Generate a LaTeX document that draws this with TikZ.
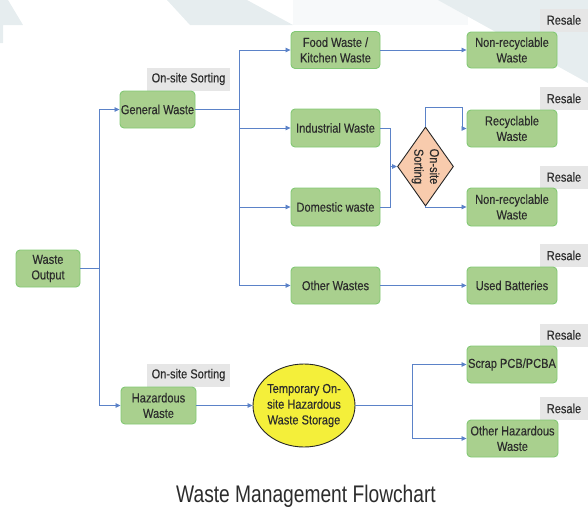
\documentclass[tikz,border=0pt]{standalone}
\usepackage{fontspec}
\setmainfont{Liberation Sans}[FakeStretch=0.85,FakeBold=0.3]
\newfontfamily\titlefont{Liberation Sans}[FakeStretch=0.8]
\usetikzlibrary{arrows.meta,shapes.geometric}
\definecolor{boxfill}{HTML}{A9D08E}
\definecolor{boxline}{HTML}{82C874}
\definecolor{conn}{HTML}{5B82C8}
\definecolor{txt}{HTML}{2C2C2C}
\definecolor{tagfill}{HTML}{E6E6E6}
\definecolor{wm}{HTML}{E6EDEF}
\definecolor{wmlight}{HTML}{F7F9FA}
\definecolor{peach}{HTML}{F8CBAD}
\definecolor{yel}{HTML}{F4EF3A}
\tikzset{
  wbox/.style={draw=boxline, fill=boxfill, line width=0.9pt, rounded corners=4pt,
    minimum width=89pt, minimum height=37pt, inner sep=0pt, align=center,
    text=txt, font=\fontsize{13}{15.5}\selectfont},
  tag/.style={fill=tagfill, inner sep=0pt, minimum height=23pt, text=txt,
    font=\fontsize{13}{15.5}\selectfont},
  conn/.style={draw=conn, line width=0.8pt},
  arr/.style={conn, -{Triangle[length=5pt,width=4.5pt]}},
  lbl/.style={text=txt, align=center, font=\fontsize{13}{15.7}\selectfont, inner sep=0pt}
}
\begin{document}
\begin{tikzpicture}[x=1pt,y=-1pt]
\useasboundingbox (0,0) rectangle (588,506);
% watermark shapes
\fill[wmlight] (293,0) -- (468,0) -- (468,25) -- (293,25) -- cycle;
\fill[wm] (0,0) -- (8,0) -- (23,25) -- (3,25) -- (3,43) -- (0,43) -- cycle;
\fill[wm] (167,0) -- (247,0) -- (293,25) -- (190,25) -- cycle;
\fill[wm] (438,0) -- (588,0) -- (588,83) -- cycle;
% gray tags
\node[tag, minimum width=83pt] (t1) at (188.5,79) {On-site Sorting};
\node[tag, minimum width=83pt] (t2) at (188.5,375) {On-site Sorting};
\node[tag, minimum width=48pt] (r1) at (564,20) {Resale};
\node[tag, minimum width=48pt] (r2) at (564,98.5) {Resale};
\node[tag, minimum width=48pt] (r3) at (564,177) {Resale};
\node[tag, minimum width=48pt] (r4) at (564,255.5) {Resale};
\node[tag, minimum width=48pt] (r5) at (564,335) {Resale};
\node[tag, minimum width=48pt] (r6) at (564,408.5) {Resale};
% boxes
\node[wbox, minimum width=64pt] (wo) at (48,268.5) {Waste\\Output};
\node[wbox, minimum width=75pt] (gw) at (157.5,109.5) {General Waste};
\node[wbox, minimum width=75pt] (hw) at (158.5,405.5) {Hazardous\\Waste};
\node[wbox] (fw) at (335.5,50) {Food Waste /\\Kitchen Waste};
\node[wbox, minimum height=38pt] (iw) at (335.5,128) {Industrial Waste};
\node[wbox, minimum height=38pt] (dw) at (335.5,207) {Domestic waste};
\node[wbox] (ow) at (335.5,285.5) {Other Wastes};
\node[wbox, minimum width=90pt, minimum height=36pt] (nr1) at (512,50) {Non-recyclable\\Waste};
\node[wbox, minimum width=90pt] (rw) at (512,128.5) {Recyclable\\Waste};
\node[wbox, minimum width=90pt, minimum height=38pt] (nr2) at (512,207) {Non-recyclable\\Waste};
\node[wbox, minimum width=90pt] (ub) at (512,285.5) {Used Batteries};
\node[wbox, minimum width=90pt] (sp) at (512,364.5) {Scrap PCB/PCBA};
\node[wbox, minimum width=91pt] (oh) at (512.5,438.5) {Other Hazardous\\Waste};
% diamond
\node[diamond, draw=black!85, fill=peach, line width=0.9pt, minimum width=56pt,
  minimum height=79pt, inner sep=0pt] (d) at (425.5,166.5) {};
\node[lbl, rotate=-90] (dt) at (d.center) {On-site\\Sorting};
% ellipse
\node[ellipse, draw=black!85, fill=yel, line width=0.9pt, minimum width=102pt,
  minimum height=83pt, inner sep=0pt] (el) at (304,405.5) {};
\node[lbl] (elt) at (el.center) {Temporary On-\\site Hazardous\\Waste Storage};
% junctions
\coordinate (j1) at (99,268.5);
\coordinate (j2) at (239,109.5);
\coordinate (j3) at (390,166.5);
\coordinate (j4) at (462,107);
\coordinate (j5) at (412,405.5);
% connectors
\draw[conn] (wo.east) -- (j1);
\draw[arr] (j1) |- (gw.west);
\draw[arr] (j1) |- (hw.west);
\draw[conn] (gw.east) -- (j2);
\draw[arr] (j2) |- (fw.west);
\draw[arr] (j2) |- (iw.west);
\draw[arr] (j2) |- (dw.west);
\draw[arr] (j2) |- (ow.west);
\draw[arr] (fw.east) -- (nr1.west);
\draw[arr] (ow.east) -- (ub.west);
\draw[conn] (iw.east) -| (j3);
\draw[conn] (dw.east) -| (j3);
\draw[arr] (j3) -- (d.west);
\draw[conn] (d.north) |- (j4);
\draw[arr] (j4) |- (rw.west);
\draw[arr] (d.south) |- (nr2.west);
\draw[arr] (hw.east) -- (el.west);
\draw[conn] (el.east) -- (j5);
\draw[arr] (j5) |- (sp.west);
\draw[arr] (j5) |- (oh.west);
% title
\node[text=txt, font=\titlefont\fontsize{24}{27}\selectfont, anchor=base, inner sep=0pt] (title) at (306,502) {Waste Management Flowchart};
\end{tikzpicture}
\end{document}
